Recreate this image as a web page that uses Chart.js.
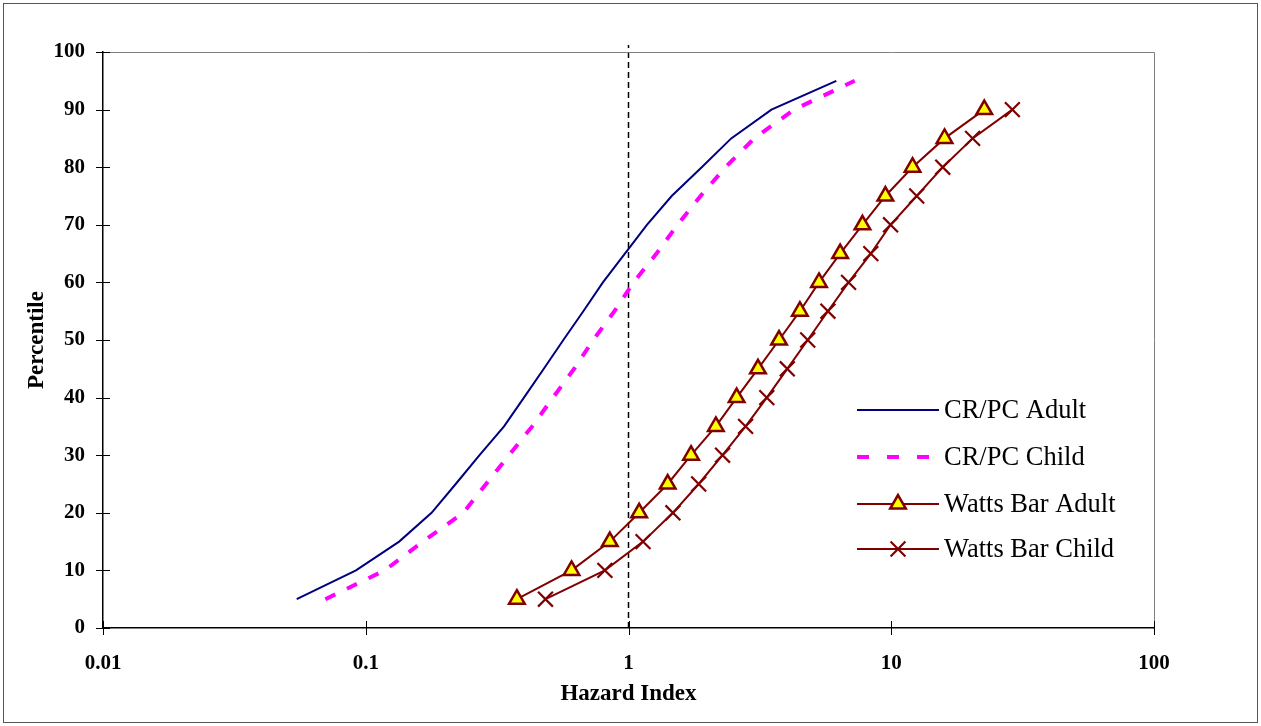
<!DOCTYPE html>
<html><head><meta charset="utf-8">
<script src="https://cdn.jsdelivr.net/npm/chart.js@4.4.1/dist/chart.umd.min.js"></script>
<style>html,body{margin:0;padding:0;background:#fff}#wrap{width:1261px;height:726px}</style>
</head><body><div id="wrap"><canvas id="c" width="1261" height="726"></canvas></div>
<script>
const percentiles = [5,10,15,20,25,30,35,40,45,50,55,60,65,70,75,80,85,90,95];
const crpcAdult = [0.0546,0.0918,0.134,0.178,0.22,0.271,0.336,0.40,0.476,0.565,0.673,0.799,0.969,1.175,1.46,1.90,2.46,3.50,6.18];
const crpcChild = [0.0702,0.118,0.165,0.235,0.287,0.351,0.430,0.516,0.621,0.734,0.884,1.045,1.278,1.536,1.88,2.34,3.01,4.27,7.26];
const wbPercentiles = [5,10,15,20,25,30,35,40,45,50,55,60,65,70,75,80,85,90];
const wattsAdult = [0.376,0.607,0.849,1.098,1.41,1.73,2.15,2.58,3.11,3.74,4.49,5.31,6.39,7.77,9.5,12.05,15.95,22.6];
const wattsChild = [0.483,0.813,1.136,1.476,1.85,2.28,2.79,3.36,4.02,4.81,5.74,6.88,8.36,9.94,12.5,15.7,20.4,28.9];
const refX = [1,1];
const refY = [0,101.2];
const xTicks = [0.01,0.1,1,10,100];
const seriesNames = ['CR/PC Adult','CR/PC Child','Watts Bar Adult','Watts Bar Child'];

const pts = (xs, ys) => xs.map((x,i)=>({x:x, y:ys[i]}));
const DR = '#800000';

const datasets = [
  {label:seriesNames[0], data:pts(crpcAdult,percentiles), borderColor:'#000080', borderWidth:2, pointRadius:0, showLine:true, tension:0},
  {label:seriesNames[1], data:pts(crpcChild,percentiles), borderColor:'#FF00FF', borderWidth:4, borderDash:[11,13], pointRadius:0, showLine:true, tension:0},
  {label:seriesNames[2], data:pts(wattsAdult,wbPercentiles), borderColor:DR, borderWidth:2, pointStyle:'triangle', pointRadius:9, pointBackgroundColor:'#FFFF00', pointBorderColor:DR, pointBorderWidth:2.5, showLine:true, tension:0},
  {label:seriesNames[3], data:pts(wattsChild,wbPercentiles), borderColor:DR, borderWidth:2, pointStyle:'crossRot', pointRadius:10.5, pointBorderColor:DR, pointBorderWidth:2.2, showLine:true, tension:0},
  {label:'ref', data:pts(refX,refY), borderColor:'#000', borderWidth:1.5, borderDash:[6,4], pointRadius:0, showLine:true, clip:false}
];

const deco = {
  id:'deco',
  beforeDraw(chart){
    const ctx = chart.ctx;
    ctx.save();
    ctx.fillStyle='#fff'; ctx.fillRect(0,0,chart.width,chart.height);
    ctx.strokeStyle='#555'; ctx.lineWidth=1;
    ctx.strokeRect(3.5,3.5,chart.width-7,chart.height-7);
    ctx.restore();
  },
  afterDraw(chart){
    const ctx = chart.ctx, a = chart.chartArea;
    const xs = chart.scales.x, ys = chart.scales.y;
    ctx.save();
    ctx.strokeStyle='#808080'; ctx.lineWidth=1;
    ctx.beginPath();
    ctx.moveTo(a.left, a.top+0.5); ctx.lineTo(a.right+0.5, a.top+0.5); ctx.lineTo(a.right+0.5, a.bottom);
    ctx.stroke();
    ctx.strokeStyle='#000'; ctx.lineWidth=1;
    ctx.beginPath();
    ys.ticks.forEach(t=>{ const y=Math.round(ys.getPixelForValue(t.value))+0.5; ctx.moveTo(a.left-7,y); ctx.lineTo(a.left+7,y); });
    xTicks.forEach(v=>{ const x=Math.round(xs.getPixelForValue(v))+0.5; ctx.moveTo(x,a.bottom-7); ctx.lineTo(x,a.bottom+7); });
    ctx.stroke();
    const lx0 = 857, lx1 = 939, tx = 944;
    const rows = [410,457,504,549];
    ctx.font = '26.5px "Liberation Serif", "Times New Roman", serif';
    ctx.textBaseline='middle'; ctx.textAlign='left';
    rows.forEach((ry,i)=>{
      const ds = chart.data.datasets[i];
      ctx.save();
      ctx.strokeStyle = ds.borderColor; ctx.lineWidth = ds.borderWidth;
      if(ds.borderDash) ctx.setLineDash([12,18]);
      ctx.beginPath(); ctx.moveTo(lx0,ry); ctx.lineTo(lx1,ry); ctx.stroke();
      ctx.restore();
      if(ds.pointRadius>0){
        ctx.save();
        ctx.fillStyle = ds.pointBackgroundColor || 'rgba(0,0,0,0)';
        ctx.strokeStyle = ds.pointBorderColor; ctx.lineWidth = ds.pointBorderWidth;
        Chart.helpers.drawPoint(ctx,{pointStyle:ds.pointStyle, radius:ds.pointRadius, borderWidth:ds.pointBorderWidth, rotation:0},(lx0+lx1)/2, ry);
        ctx.restore();
      }
      ctx.fillStyle='#000';
      ctx.fillText(ds.label, tx, ry+1);
    });
    ctx.restore();
  }
};

const tickFont = {family:'"Liberation Serif", serif', size:21, weight:'bold'};
const titleFont = {family:'"Liberation Serif", serif', size:23, weight:'bold'};

new Chart(document.getElementById('c'), {
  type:'scatter',
  data:{datasets},
  options:{
    responsive:false, animation:false,
    layout:{padding:{top:52,right:107,left:0,bottom:0}},
    plugins:{legend:{display:false}, tooltip:{enabled:false}},
    scales:{
      x:{type:'logarithmic', min:0.01, max:100,
        afterBuildTicks:(s)=>{ s.ticks = xTicks.map(v=>({value:v})); },
        afterFit:(s)=>{ s.height = 98; },
        grid:{display:false}, border:{display:true,color:'#000',width:1.5},
        ticks:{color:'#000', padding:15, autoSkip:false, maxRotation:0, font:tickFont,
          callback:(v)=> String(v)},
        title:{display:true, text:'Hazard Index', color:'#000', padding:{top:4,bottom:18}, font:titleFont}
      },
      y:{min:0, max:100,
        afterFit:(s)=>{ s.width = 103; },
        grid:{display:false}, border:{display:true,color:'#000',width:1.5},
        ticks:{stepSize:10, color:'#000', padding:10, font:tickFont},
        title:{display:true, text:'Percentile', color:'#000', padding:{top:23,bottom:0}, font:titleFont}
      }
    }
  },
  plugins:[deco]
});
</script></body></html>
